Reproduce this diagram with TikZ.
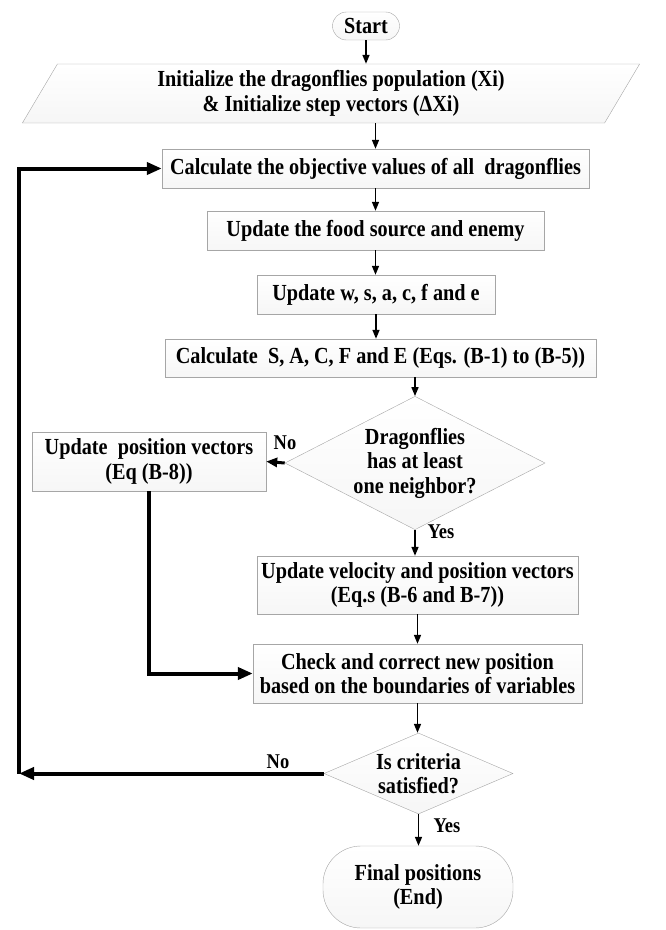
\documentclass[tikz,border=0pt]{standalone}
\usepackage{fontspec}
\setmainfont[FakeStretch=0.88]{Liberation Serif}
\usetikzlibrary{arrows.meta, shapes.geometric, positioning}

\begin{document}
\begin{tikzpicture}[
        x=1pt,y=-1pt,
        font=\fontsize{23}{24.5}\selectfont\bfseries,
        >={Triangle[length=9pt,width=7pt]},
        every node/.style={align=center, inner sep=0pt},
        box/.style={draw=gray!70, top color=white, bottom color=gray!7, minimum height=39pt},
        terminal/.style={box, rounded corners=14pt},
        io/.style={box, trapezium, trapezium left angle=64, trapezium right angle=116, trapezium stretches=true},
        decision/.style={box, diamond},
        flow/.style={->, line width=1.6pt},
        back/.style={-{Triangle[length=15pt,width=12pt]}, line width=4pt},
        side/.style={-{Triangle[length=11pt,width=9pt]}, line width=3pt},
        lab/.style={font=\fontsize{21}{22}\selectfont\bfseries},
        ]
        \useasboundingbox (0,0) rectangle (665,930);

        \node[terminal, minimum width=67pt, minimum height=28pt] (start) at (366,26) {Start};
        \node[io, minimum width=618pt, minimum height=59pt] (init) at (331,93.5)
            {Initialize the dragonflies population (Xi)\\\& Initialize step vectors (ΔXi)};
        \node[box, minimum width=427pt] (calc) at (375.5,168.5) {Calculate the objective values of all\ \ dragonflies};
        \node[box, minimum width=337pt] (food) at (375.5,230.5) {Update the food source and enemy};
        \node[box, minimum width=238pt] (upd) at (376,294.5) {Update w, s, a, c, f and e};
        \node[box, minimum width=431pt, minimum height=38pt] (calc_s) at (380.5,358)
            {Calculate\ \ S, A, C, F and E (Eqs. (B-1) to (B-5))};
        \node[decision, aspect=1.95, minimum width=252pt, minimum height=128pt] (dec_1) at (415,463)
            {Dragonflies\\has at least\\one neighbor?};
        \node[box, minimum width=234pt, minimum height=59pt] (pos) at (149,461.5) {Update\ \ position vectors\\(Eq (B-8))};
        \node[box, minimum width=321pt, minimum height=58pt] (vel) at (417.5,585)
            {Update velocity and position vectors\\(Eq.s (B-6 and B-7))};
        \node[box, minimum width=329pt, minimum height=59pt] (check) at (417.5,673.5)
            {Check and correct new position\\based on the boundaries of variables};
        \node[decision, aspect=2.3, minimum width=189pt, minimum height=81pt] (dec_2) at (418.5,773.5)
            {Is criteria\\satisfied?};
        \node[terminal, rounded corners=38pt, minimum width=190pt, minimum height=82pt] (end) at (418,887)
            {Final positions\\(End)};

        % main line
        \draw[flow] (start.south) -- (start.south |- init.north);
        \draw[flow] (calc.north |- init.south) -- (calc.north);
        \draw[flow] (calc) -- (food);
        \draw[flow] (food.south) -- (food.south |- upd.north);
        \draw[flow] (upd.south) -- (upd.south |- calc_s.north);
        \draw[flow] (dec_1.north |- calc_s.south) -- (dec_1.north);
        \draw[flow] (dec_1.south) -- (dec_1.south |- vel.north);
        \draw[flow] (vel) -- (check);
        \draw[flow] (check.south) -- (check.south |- dec_2.north);
        \draw[flow] (dec_2.south) -- (dec_2.south |- end.north);

        % branches
        \draw[side] (dec_1.west) -- (pos.east);
        \draw[back] (pos.south) |- (check.west);
        \coordinate (loop_c) at (19,773.5);
        \draw[back] (dec_2.west) -- (loop_c);
        \draw[back] (loop_c) |- (calc.west);

        \node[lab] (no_1) at (285,443) {No};
        \node[lab] (yes_1) at (441,532) {Yes};
        \node[lab] (no_2) at (278,762) {No};
        \node[lab] (yes_2) at (447,826) {Yes};
      \end{tikzpicture}
\end{document}
